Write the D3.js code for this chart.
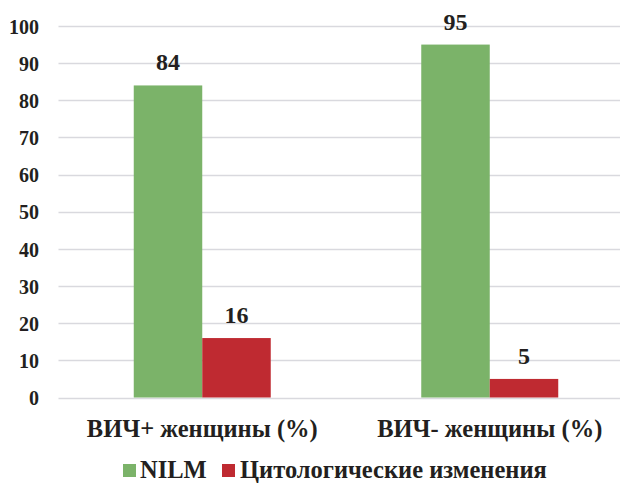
<!DOCTYPE html>
<html>
<head>
<meta charset="utf-8">
<script src="https://cdn.jsdelivr.net/npm/d3@7"></script>
<style>
  html, body { margin: 0; padding: 0; background: #fff; }
  svg { display: block; }
  text { font-family: "Liberation Serif", "Times New Roman", serif; font-weight: bold; fill: #231f20; }
</style>
</head>
<body>
<svg id="chart" width="620" height="486"></svg>
<script>
// Categories, series and values
const categories = ["ВИЧ+ женщины (%)", "ВИЧ- женщины (%)"];
const seriesNames = ["NILM", "Цитологические изменения"];
const nilmValues = [84, 95];
const changesValues = [16, 5];
const yTicks = [0, 10, 20, 30, 40, 50, 60, 70, 80, 90, 100];
const seriesColors = ["#7bb369", "#bf2a31"];

const rows = categories.map((c, i) => ({
  category: c,
  values: [
    { series: seriesNames[0], value: nilmValues[i] },
    { series: seriesNames[1], value: changesValues[i] }
  ]
}));

const svg = d3.select("#chart");
const W = 620, H = 486;

const y = d3.scaleLinear().domain([0, 100]).range([397.5, 26]);
const x0 = d3.scaleBand()
  .domain(categories)
  .range([58.5, 633.5])
  .paddingInner(0.5235)
  .paddingOuter(0.26175);
const x1 = d3.scaleBand()
  .domain(seriesNames)
  .range([0, x0.bandwidth()]);
const color = d3.scaleOrdinal().domain(seriesNames).range(seriesColors);

// Horizontal gridlines
const grid = svg.append("g");
grid.selectAll("line")
  .data(yTicks)
  .join("line")
  .attr("x1", 58.5)
  .attr("x2", W)
  .attr("y1", d => Math.round(y(d)) + 0.5)
  .attr("y2", d => Math.round(y(d)) + 0.5)
  .attr("stroke", "#d9d9de")
  .attr("stroke-width", 1.5);

// Y axis labels
const yAxis = d3.axisLeft(y).tickValues(yTicks).tickSize(0).tickPadding(0);
const yg = svg.append("g").attr("transform", "translate(39,0)").call(yAxis);
yg.select(".domain").remove();
yg.selectAll("text")
  .attr("font-size", 20)
  .attr("font-family", "Liberation Serif")
  .attr("font-weight", "bold")
  .attr("fill", "#231f20")
  .attr("dy", "0.36em");

// Bars
const groups = svg.append("g")
  .selectAll("g")
  .data(rows)
  .join("g")
  .attr("transform", d => `translate(${x0(d.category)},0)`);

groups.selectAll("rect")
  .data(d => d.values)
  .join("rect")
  .attr("x", d => x1(d.series))
  .attr("width", x1.bandwidth())
  .attr("y", d => y(d.value))
  .attr("height", d => y(0) - y(d.value))
  .attr("fill", d => color(d.series));

// Value labels
groups.selectAll("text")
  .data(d => d.values)
  .join("text")
  .attr("x", d => x1(d.series) + x1.bandwidth() / 2)
  .attr("y", d => y(d.value) - 15)
  .attr("text-anchor", "middle")
  .attr("font-size", 24)
  .text(d => d.value);

// Category labels
const xAxis = d3.axisBottom(x0).tickSize(0).tickPadding(0);
const xg = svg.append("g").attr("transform", "translate(0,437)").call(xAxis);
xg.select(".domain").remove();
xg.selectAll("text")
  .attr("dy", 0)
  .attr("font-size", 24.5)
  .attr("font-family", "Liberation Serif")
  .attr("font-weight", "bold")
  .attr("fill", "#231f20");

// Legend
const legendItems = [
  { name: seriesNames[0], x: 123, tx: 140 },
  { name: seriesNames[1], x: 222, tx: 240 }
];
const legend = svg.append("g");
legend.selectAll("rect")
  .data(legendItems)
  .join("rect")
  .attr("x", d => d.x)
  .attr("y", 464)
  .attr("width", 13)
  .attr("height", 13)
  .attr("fill", d => color(d.name));
legend.selectAll("text")
  .data(legendItems)
  .join("text")
  .attr("x", d => d.tx)
  .attr("y", 478)
  .attr("font-size", 24.5)
  .text(d => d.name);
</script>
</body>
</html>
